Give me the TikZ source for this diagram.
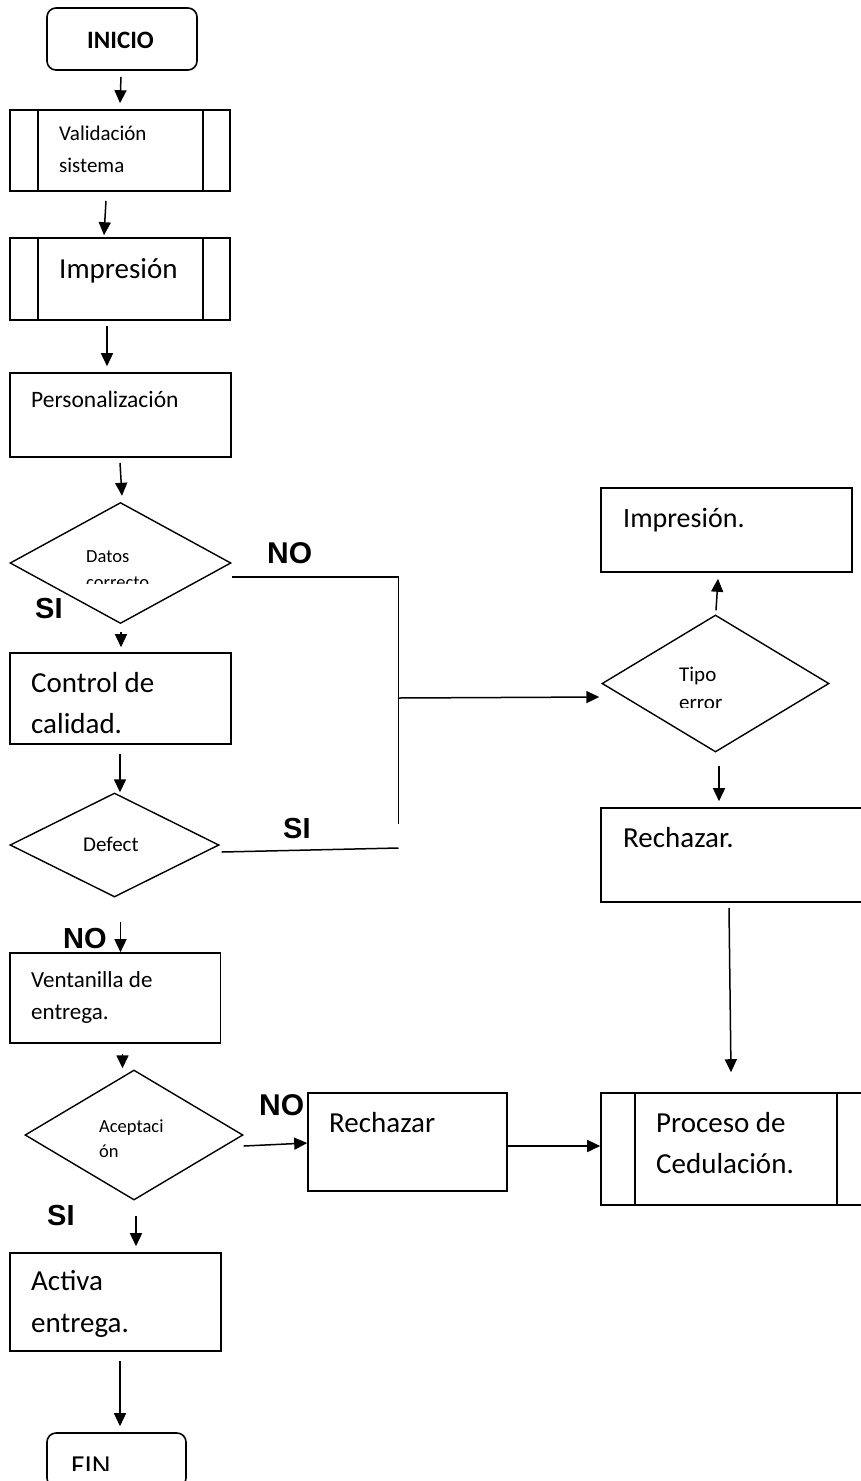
\documentclass[tikz,border=0pt]{standalone}
\usepackage{fontspec}
\setmainfont{Carlito}
\newfontfamily\lab{Liberation Sans}
\usetikzlibrary{arrows.meta,shapes.geometric,calc}
\begin{document}
\begin{tikzpicture}[x=1pt,y=-1pt,
  bx/.style={draw, line width=1.6pt, inner sep=0pt, rectangle},
  rbx/.style={bx, rounded corners=9pt},
  dia/.style={draw, diamond, line width=1.4pt, inner sep=0pt},
  ln/.style={line width=1.5pt},
  arr/.style={ln, -{Triangle[length=13pt,width=12pt]}},
  tx/.style={anchor=base west, inner sep=0pt, font=\fontsize{#1}{#1}\selectfont},
  txb/.style={anchor=base west, inner sep=0pt, font=\bfseries\fontsize{#1}{#1}\selectfont},
  lb/.style={anchor=base west, inner sep=0pt, font=\lab\bfseries\fontsize{#1}{#1}\selectfont},
]
\path[use as bounding box] (0,0) rectangle (861,1481);
\clip (0,0) rectangle (861,1481);

% ---------- shapes ----------
\node[rbx, minimum width=150pt, minimum height=62pt] (ini) at (122,39) {};
\node[bx, minimum width=220pt, minimum height=81pt] (val) at (120,150.5) {};
\node[bx, minimum width=220pt, minimum height=82pt] (imp) at (120,279) {};
\node[bx, minimum width=221pt, minimum height=84pt] (per) at (120.5,415) {};
\node[dia, minimum width=221pt, minimum height=121pt] (dat) at (120.5,563) {};
\node[bx, minimum width=221pt, minimum height=91pt] (cc) at (120.5,698.5) {};
\node[dia, minimum width=209pt, minimum height=104pt] (def) at (114.5,845) {};
\node[bx, minimum width=210.5pt, minimum height=90pt] (ven) at (115.25,998) {};
\node[dia, minimum width=218pt, minimum height=130pt] (ace) at (134,1135) {};
\node[bx, minimum width=199pt, minimum height=98pt] (rch) at (407.5,1142) {};
\node[bx, minimum width=270pt, minimum height=112pt] (pro) at (736,1149) {};
\node[bx, minimum width=211pt, minimum height=98pt] (act) at (115.5,1302) {};
\node[rbx, minimum width=139pt, minimum height=54pt] (fin) at (116.5,1460) {};
\node[bx, minimum width=251pt, minimum height=84pt] (impR) at (726.5,530) {};
\node[dia, minimum width=227pt, minimum height=137pt] (tip) at (715.5,683.5) {};
\node[bx, minimum width=269pt, minimum height=94pt] (rej) at (735.5,855) {};

% inner lines of the predefined-process boxes
\draw[line width=1.6pt] (38,110) -- (38,191) (203,110) -- (203,191);
\draw[line width=1.6pt] (38,238) -- (38,320) (203,238) -- (203,320);
\draw[line width=1.6pt] (635,1093) -- (635,1205) (837,1093) -- (837,1205);

% ---------- texts ----------
\node[txb=25] (t1) at (87,48) {INICIO};
\node[tx=21] (t2) at (59,140) {Validación};
\node[tx=21] (t3) at (59,172) {sistema};
\node[tx=29] (t4) at (59,278) {Impresión};
\node[tx=23.5] (t5) at (31,407) {Personalización};
\node[tx=18.5] (t6) at (86,562) {Datos};
\begin{scope}
  \clip (60,540) rectangle (200,583);
  \node[tx=18.5] (t7) at (86,588) {correcto};
\end{scope}
\node[lb=30] (t8) at (267,563) {NO};
\node[lb=29] (t9) at (35,618) {SI};
\node[tx=29] (t10) at (31,692) {Control de};
\node[tx=29] (t11) at (31,733) {calidad.};
\node[tx=21] (t12) at (83,851) {Defect};
\node[lb=29] (t13) at (283,838) {SI};
\node[lb=29] (t14) at (63,948) {NO};
\node[tx=23] (t15) at (31,987) {Ventanilla de};
\node[tx=23] (t16) at (31,1019) {entrega.};
\node[tx=18.5] (t17) at (99,1132) {Aceptaci};
\node[tx=18.5] (t18) at (99,1157) {ón};
\node[lb=30] (t19) at (259,1115) {NO};
\node[tx=29] (t20) at (329,1132) {Rechazar};
\node[tx=29] (t21) at (656,1132) {Proceso de};
\node[tx=29] (t22) at (656,1173) {Cedulación.};
\node[lb=29] (t23) at (47,1225) {SI};
\node[tx=29] (t24) at (31,1290) {Activa};
\node[tx=29] (t25) at (31,1332) {entrega.};
\begin{scope}
  \clip (50,1440) rectangle (180,1470);
  \node[tx=29] (t26) at (71,1475) {FIN};
\end{scope}
\node[tx=28] (t27) at (623,527) {Impresión.};
\node[tx=21] (t28) at (679,681) {Tipo};
\begin{scope}
  \clip (640,660) rectangle (790,707);
  \node[tx=21] (t29) at (679,709) {error};
\end{scope}
\node[tx=29] (t30) at (623,847) {Rechazar.};

% ---------- connectors ----------
\coordinate (j1) at (398.5,577);
\coordinate (j2) at (398.5,824);
\coordinate (j3) at (398.5,698);
\coordinate (j4) at (398.5,848);

\draw[arr] ($(ini.south)+(-1,6)$) -- ($(val.north)+(0,-6)$);
\draw[arr] ($(val.south)+(-14,9)$) -- ($(imp.north)+(-16,-2)$);
\draw[arr] ($(imp.south)+(-13,5)$) -- ($(per.north)+(-13.5,-6)$);
\draw[arr] ($(per.south)+(-0.5,5)$) -- ($(dat.north)+(1.5,-6)$);
\draw[arr] ($(dat.south)+(0.5,8)$) -- ($(cc.north)+(0.5,-5)$);
\draw[arr] ($(cc.south)+(-0.5,9)$) -- ($(def.north)+(5.5,0)$);
\draw[ln] ($(dat.east)+(0,14)$) -- (j1) -- (j2);
\draw[arr] (j3) -- ($(tip.west)+(-2,13.5)$);
\draw[ln] ($(def.east)+(2,7)$) -- (j4);
\draw[arr] ($(ven.north)+(5.25,-30)$) -- ($(ven.north)+(5.25,0)$);
\draw[arr] ($(ven.south)+(7.25,10)$) -- ($(ace.north)+(-11.5,-1)$);
\draw[arr] ($(ace.east)+(0,11)$) -- ($(rch.west)+(0,1)$);
\draw[arr] ($(rch.east)+(0,4)$) -- ($(pro.west)+(0,-3)$);
\draw[arr] ($(ace.south)+(2,15)$) -- ($(act.north)+(20.5,-6)$);
\draw[arr] ($(act.south)+(4.5,9)$) -- ($(fin.north)+(3.5,-6)$);
\draw[arr] ($(tip.north)+(0.5,-4)$) -- ($(impR.south)+(-8.5,6)$);
\draw[arr] ($(tip.south)+(3.5,13)$) -- ($(rej.north)+(-16.5,-6)$);
\draw[arr] ($(rej.south)+(-6.5,5)$) -- ($(pro.north)+(-5,-20)$);
\end{tikzpicture}
\end{document}
